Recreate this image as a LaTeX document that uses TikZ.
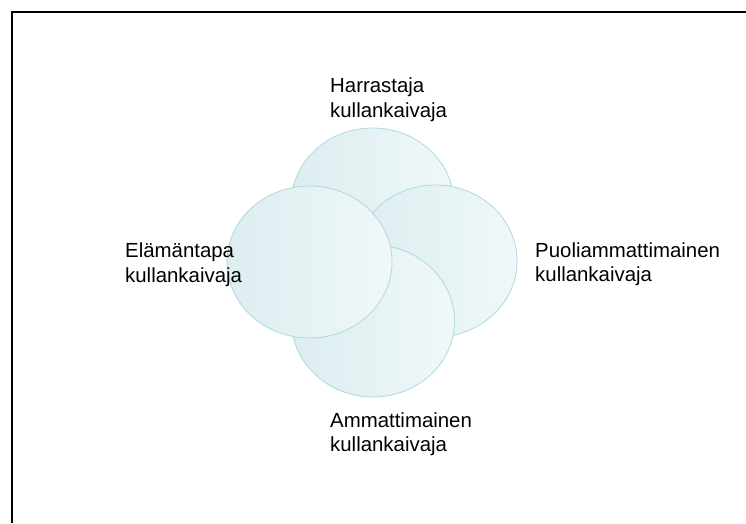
\documentclass[tikz,border=0pt]{standalone}
\usepackage{fontspec}
\setmainfont{Liberation Sans}
\definecolor{bubbleedge}{RGB}{172,217,222}
\definecolor{bubbledark}{RGB}{220,237,240}
\definecolor{bubblemid}{RGB}{225,240,242}
\definecolor{bubblelight}{RGB}{240,248,249}
\tikzset{
  bubble/.style={draw=bubbleedge, line width=0.8pt, left color=bubbledark, middle color=bubblemid, right color=bubblelight},
  lbl/.style={anchor=north west, inner sep=0pt, align=left, font=\fontsize{20.4pt}{24.8pt}\selectfont}
}
\begin{document}
\begin{tikzpicture}[x=1pt, y=-1pt]
\useasboundingbox (0,0) rectangle (746,523);
\draw[line width=2pt] (12,523) -- (12,12) -- (746,12);
\draw[bubble] (372.5,204) ellipse [x radius=81.5pt, y radius=76pt];
\draw[bubble] (435.5,261) ellipse [x radius=81.5pt, y radius=76pt];
\draw[bubble] (373,321) ellipse [x radius=81.5pt, y radius=76pt];
\draw[bubble] (309.5,262) ellipse [x radius=82.5pt, y radius=76pt];
\node[lbl] (harrastaja) at (330,77.4) {Harrastaja\\kullankaivaja};
\node[lbl] (elamantapa) at (125,242.7) {Elämäntapa\\kullankaivaja};
\node[lbl] (puoli) at (535,242.1) {Puoliammattimainen\\kullankaivaja};
\node[lbl] (ammatti) at (330,412.1) {Ammattimainen\\kullankaivaja};
\end{tikzpicture}
\end{document}
